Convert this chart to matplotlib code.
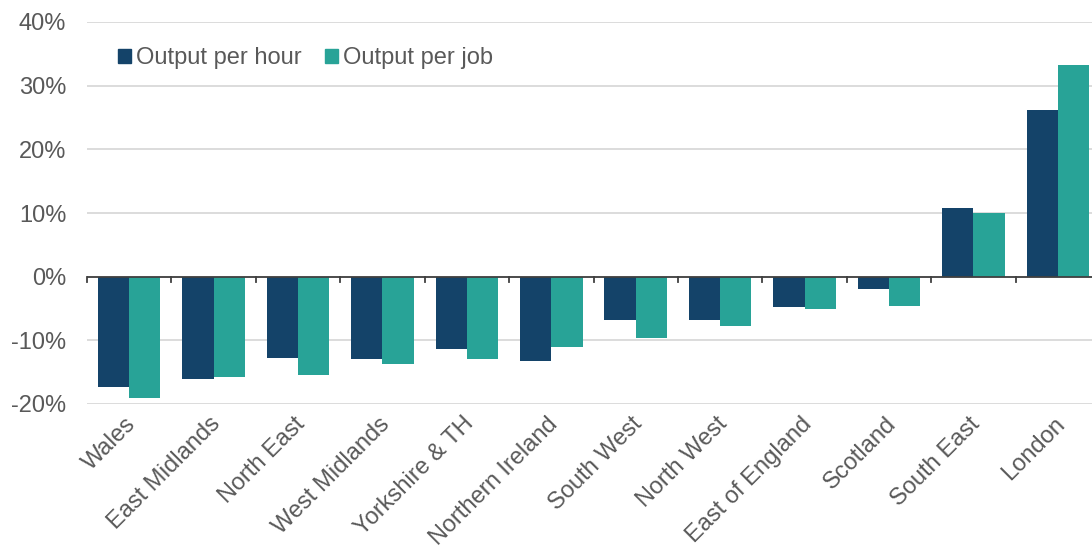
import matplotlib.pyplot as plt
import numpy as np
from matplotlib.patches import Patch

plt.rcParams['font.family'] = ['Liberation Sans', 'DejaVu Sans']

regions = ['Wales', 'East Midlands', 'North East', 'West Midlands', 'Yorkshire & TH',
           'Northern Ireland', 'South West', 'North West', 'East of England',
           'Scotland', 'South East', 'London']
per_hour = [-17.3, -16.0, -12.7, -12.9, -11.4, -13.2, -6.8, -6.8, -4.7, -2.0, 10.8, 26.2]
per_job = [-19.0, -15.8, -15.5, -13.7, -12.9, -11.0, -9.6, -7.7, -5.1, -4.6, 10.0, 33.3]
series_names = ['Output per hour', 'Output per job']

navy = '#144369'
teal = '#28A397'
text_col = '#595959'

fig = plt.figure(figsize=(10.92, 5.51), dpi=100)
ax = fig.add_axes([87 / 1092, 147 / 551, 1013 / 1092, 382 / 551])

x = np.arange(len(regions))
w = 0.37
ax.bar(x - w / 2, per_hour, w, color=navy, zorder=3)
ax.bar(x + w / 2, per_job, w, color=teal, zorder=3)

ax.set_xlim(-0.5, len(regions) - 0.5)
ax.set_ylim(-20, 40)
ax.set_yticks(range(-20, 41, 10))
ax.set_yticklabels([f'{v}%' for v in range(-20, 41, 10)])
ax.yaxis.grid(True, color='#d9d9d9', linewidth=1.3, zorder=0)
ax.tick_params(axis='y', length=0, pad=15, labelsize=17, labelcolor=text_col)

for s in ax.spines.values():
    s.set_visible(False)
ax.axhline(0, color='#404040', linewidth=1.3, zorder=4)

# category boundary ticks hang below the zero line
ax.set_xticks([])
for b in np.arange(-0.5, len(regions), 1.0):
    ax.plot([b, b], [0, -0.9], color='#404040', linewidth=1.3, zorder=4, clip_on=False)

for xi, name in zip(x, regions):
    ax.text(xi - 0.05, -21.4, name, rotation=45, ha='right', va='top',
            rotation_mode='anchor', fontsize=17, color=text_col)

handles = [Patch(color=navy), Patch(color=teal)]
ax.legend(handles, series_names, loc='upper left', bbox_to_anchor=(0.010, 0.99),
          ncol=2, frameon=False, fontsize=17, labelcolor=text_col,
          handlelength=0.55, handleheight=0.55, handletextpad=0.2, columnspacing=1.0)

fig.savefig('out.png', dpi=100)
